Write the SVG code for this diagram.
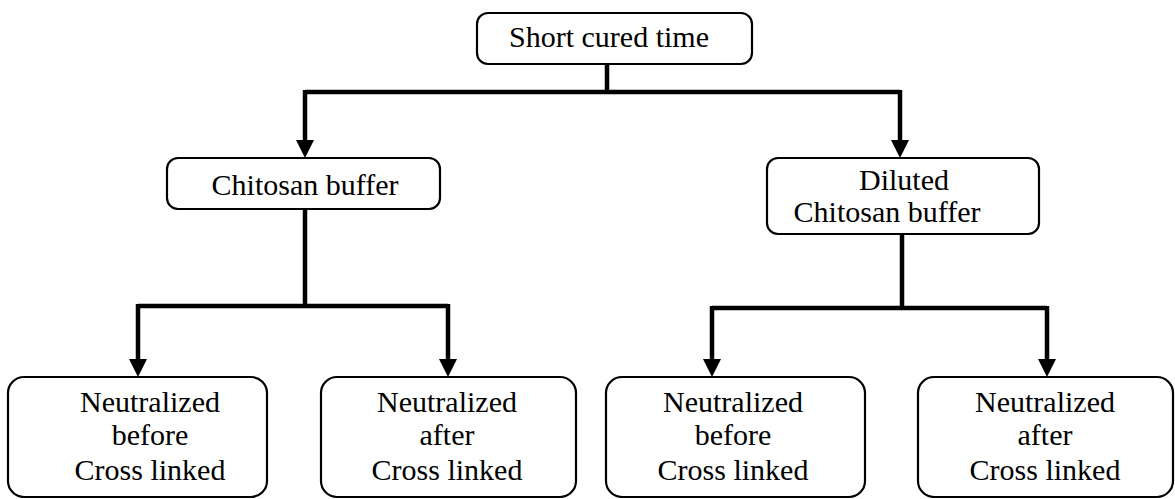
<svg xmlns="http://www.w3.org/2000/svg" width="1175" height="499" viewBox="0 0 1175 499">
<style>
.box{fill:#fff;stroke:#000;stroke-width:2.2}
.t{font-family:'Liberation Serif','Times New Roman',serif;font-size:30px;fill:#000;text-anchor:middle}
.c{fill:none;stroke:#000;stroke-width:4.5}
.ah{fill:#000}
</style>
<g id="connectors">
<path class="c" d="M607,64 V92"/>
<path class="c" d="M305,92 H900"/>
<path class="c" d="M305,90 V140"/>
<path class="ah" d="M296,140 L314,140 L305,158 Z"/>
<path class="c" d="M900,90 V140"/>
<path class="ah" d="M891,140 L909,140 L900,158 Z"/>
<path class="c" d="M305,210 V306"/>
<path class="c" d="M138,306 H448"/>
<path class="c" d="M138,304 V359"/>
<path class="ah" d="M129,359 L147,359 L138,377 Z"/>
<path class="c" d="M448,304 V359"/>
<path class="ah" d="M439,359 L457,359 L448,377 Z"/>
<path class="c" d="M902,234 V308"/>
<path class="c" d="M712,308 H1047"/>
<path class="c" d="M712,306 V359"/>
<path class="ah" d="M703,359 L721,359 L712,377 Z"/>
<path class="c" d="M1047,306 V359"/>
<path class="ah" d="M1038,359 L1056,359 L1047,377 Z"/>
</g>
<g id="n-short">
<rect class="box" x="477" y="13" width="275" height="51" rx="11"/>
<text class="t" x="609" y="47">Short cured time</text>
</g>
<g id="n-chitosan">
<rect class="box" x="167" y="158" width="273" height="51" rx="11"/>
<text class="t" x="305" y="195">Chitosan buffer</text>
</g>
<g id="n-diluted">
<rect class="box" x="767" y="158" width="272" height="76" rx="11"/>
<text class="t" x="904" y="190">Diluted</text>
<text class="t" x="887" y="222">Chitosan buffer</text>
</g>
<g id="n-b1">
<rect class="box" x="8" y="377" width="259" height="120" rx="16"/>
<text class="t" x="150" y="412">Neutralized</text>
<text class="t" x="150" y="445">before</text>
<text class="t" x="150" y="480">Cross linked</text>
</g>
<g id="n-b2">
<rect class="box" x="321" y="377" width="255" height="120" rx="16"/>
<text class="t" x="447" y="412">Neutralized</text>
<text class="t" x="447" y="445">after</text>
<text class="t" x="447" y="480">Cross linked</text>
</g>
<g id="n-b3">
<rect class="box" x="606" y="377" width="259" height="120" rx="16"/>
<text class="t" x="733" y="412">Neutralized</text>
<text class="t" x="733" y="445">before</text>
<text class="t" x="733" y="480">Cross linked</text>
</g>
<g id="n-b4">
<rect class="box" x="918" y="377" width="255" height="120" rx="16"/>
<text class="t" x="1045" y="412">Neutralized</text>
<text class="t" x="1045" y="445">after</text>
<text class="t" x="1045" y="480">Cross linked</text>
</g>
</svg>
